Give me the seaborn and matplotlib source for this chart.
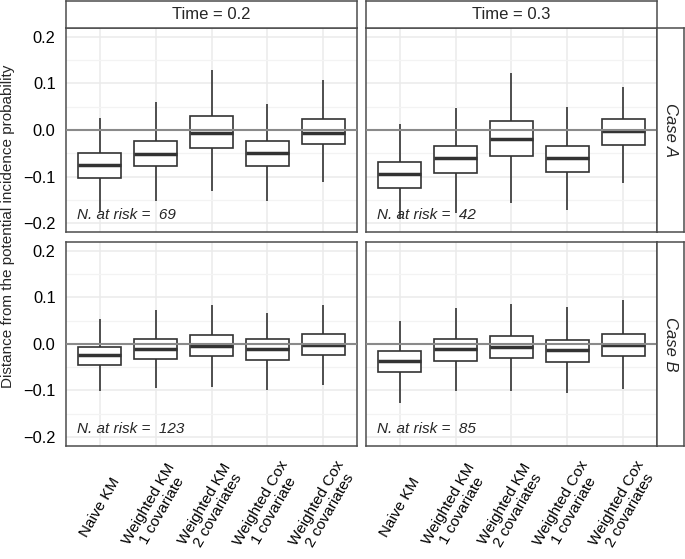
import numpy as np
import matplotlib
matplotlib.use("Agg")
import matplotlib.pyplot as plt
import pandas as pd
import seaborn as sns

methods = ["Naive KM", "Weighted KM\n1 covariate", "Weighted KM\n2 covariates",
           "Weighted Cox\n1 covariate", "Weighted Cox\n2 covariates"]
cases = ["Case A", "Case B"]
times = [0.2, 0.3]

# five-number summaries, one list per panel (methods in order)
lower = {
    ("Case A", 0.2): [-0.175, -0.152, -0.130, -0.152, -0.112],
    ("Case A", 0.3): [-0.191, -0.178, -0.157, -0.171, -0.113],
    ("Case B", 0.2): [-0.102, -0.095, -0.093, -0.099, -0.088],
    ("Case B", 0.3): [-0.126, -0.102, -0.101, -0.106, -0.096],
}
q1 = {
    ("Case A", 0.2): [-0.102, -0.078, -0.038, -0.076, -0.031],
    ("Case A", 0.3): [-0.124, -0.093, -0.055, -0.089, -0.032],
    ("Case B", 0.2): [-0.046, -0.033, -0.026, -0.034, -0.024],
    ("Case B", 0.3): [-0.061, -0.036, -0.031, -0.038, -0.025],
}
median = {
    ("Case A", 0.2): [-0.074, -0.051, -0.006, -0.050, -0.006],
    ("Case A", 0.3): [-0.094, -0.059, -0.019, -0.059, -0.002],
    ("Case B", 0.2): [-0.024, -0.010, -0.004, -0.010, -0.003],
    ("Case B", 0.3): [-0.036, -0.011, -0.006, -0.013, -0.003],
}
q3 = {
    ("Case A", 0.2): [-0.049, -0.023, 0.029, -0.023, 0.024],
    ("Case A", 0.3): [-0.068, -0.034, 0.019, -0.034, 0.023],
    ("Case B", 0.2): [-0.006, 0.011, 0.019, 0.011, 0.021],
    ("Case B", 0.3): [-0.016, 0.010, 0.016, 0.009, 0.022],
}
upper = {
    ("Case A", 0.2): [0.025, 0.061, 0.129, 0.056, 0.107],
    ("Case A", 0.3): [0.013, 0.048, 0.121, 0.049, 0.092],
    ("Case B", 0.2): [0.053, 0.073, 0.084, 0.067, 0.084],
    ("Case B", 0.3): [0.050, 0.076, 0.086, 0.078, 0.093],
}
n_at_risk = {("Case A", 0.2): 69, ("Case A", 0.3): 42,
             ("Case B", 0.2): 123, ("Case B", 0.3): 85}

rows = []
for key in lower:
    for i, m in enumerate(methods):
        for stat in (lower, q1, median, q3, upper):
            rows.append({"case": key[0], "time": key[1], "method": m, "value": stat[key][i]})
df = pd.DataFrame(rows)

sns.set_style("white")
plt.rcParams["font.family"] = ["Liberation Sans", "DejaVu Sans"]

W, H = 685, 559
fig = plt.figure(figsize=(W / 100, H / 100), dpi=100)


def rect(l, t, r, b):
    return [l / W, 1 - b / H, (r - l) / W, (b - t) / H]


cols_px = [(66, 357), (366, 657)]
rows_px = [(27.7, 232.3), (241.7, 446)]
edge = "#4d4d4d"

for ri, case in enumerate(cases):
    for ci, t in enumerate(times):
        l, r = cols_px[ci]
        top, bot = rows_px[ri]
        ax = fig.add_axes(rect(l, top, r, bot))
        sub = df[(df.case == case) & (df.time == t)]
        sns.boxplot(data=sub, x="method", y="value", order=methods, ax=ax,
                    whis=np.inf, width=0.76, color="white", linecolor="#333333",
                    linewidth=1.2, showcaps=False, fill=True,
                    medianprops=dict(linewidth=2.5, color="#333333"),
                    boxprops=dict(facecolor="white"))
        ax.axhline(0, color="#8a8a8a", lw=1.5, zorder=6)
        ax.set_xlim(-0.6, 4.6)
        ax.set_ylim(-0.219, 0.219)
        ax.set_yticks([-0.2, -0.1, 0.0, 0.1, 0.2])
        ax.set_yticks([-0.15, -0.05, 0.05, 0.15], minor=True)
        ax.set_yticklabels(["\u22120.2", "\u22120.1", "0.0", "0.1", "0.2"])
        ax.grid(which="major", color="#ebebeb", lw=1.1)
        ax.grid(which="minor", axis="y", color="#f3f3f3", lw=0.9)
        ax.set_axisbelow(True)
        ax.set_xlabel("")
        ax.set_ylabel("")
        for s in ax.spines.values():
            s.set_color(edge)
            s.set_linewidth(1.1)
            s.set_visible(True)
        ax.tick_params(axis="both", which="major", length=6, width=0.9, color=edge,
                       labelsize=11.8, labelcolor="black", direction="out")
        ax.tick_params(axis="y", which="minor", length=0)
        ax.tick_params(axis="y", pad=1.5)
        if ri == 0:
            ax.tick_params(axis="x", length=0, labelbottom=False)
        else:
            ax.set_xticks(range(len(methods)))
            ax.set_xticklabels(methods, rotation=60, ha="center", va="center",
                               rotation_mode="anchor", multialignment="center",
                               linespacing=1.05)
            ax.tick_params(axis="x", pad=38, labelsize=11)
        if ci == 1:
            ax.tick_params(axis="y", length=0, labelleft=False)
        ax.text(-0.405, -0.182, f"N. at risk =  {n_at_risk[(case, t)]}",
                style="italic", fontsize=11, va="center", ha="left", zorder=7)

        if ri == 0:
            sax = fig.add_axes(rect(l, 0.5, r, 27.7))
            sax.set_xticks([])
            sax.set_yticks([])
            for s in sax.spines.values():
                s.set_color(edge)
                s.set_linewidth(1.1)
            sax.text(0.5, 0.5, f"Time = {t}", ha="center", va="center", fontsize=12,
                     transform=sax.transAxes)
        if ci == 1:
            sax = fig.add_axes(rect(657, top, 684, bot))
            sax.set_xticks([])
            sax.set_yticks([])
            for s in sax.spines.values():
                s.set_color(edge)
                s.set_linewidth(1.1)
            sax.text(0.5, 0.5, case, ha="center", va="center", fontsize=12,
                     rotation=-90, style="italic", transform=sax.transAxes)

fig.text(8.5 / W, 1 - 226 / H, "Distance from the potential incidence probability",
         rotation=90, ha="center", va="center", fontsize=11)

fig.savefig("out.png", dpi=100)
